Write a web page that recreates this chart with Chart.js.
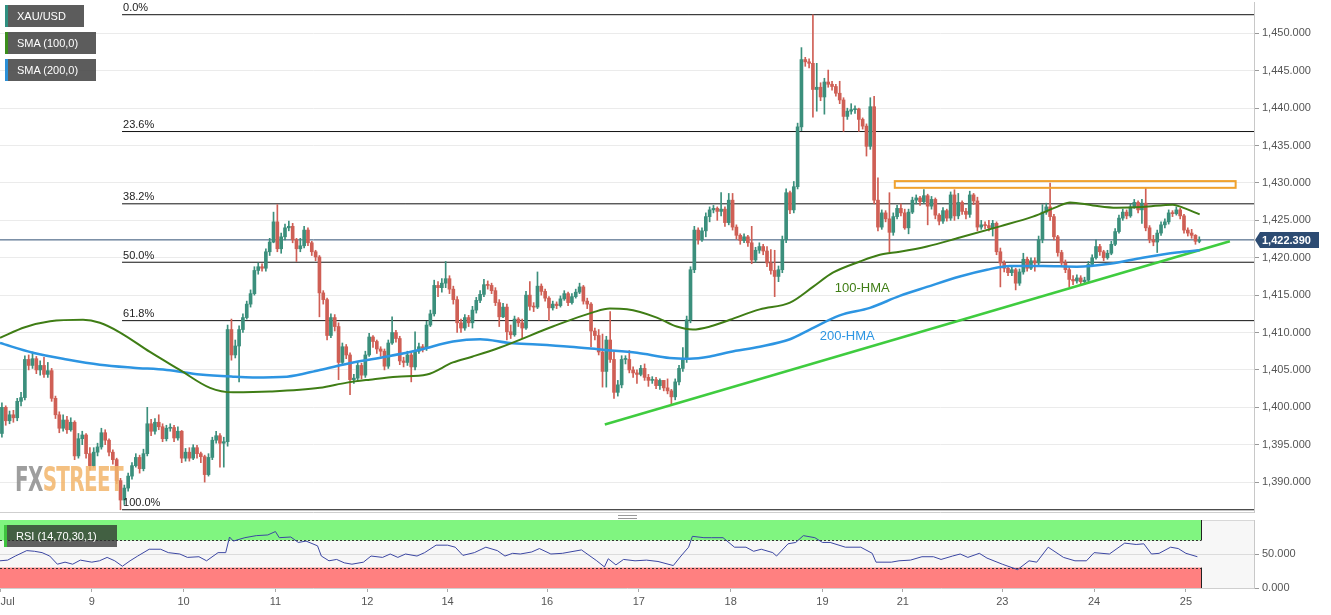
<!DOCTYPE html>
<html>
<head>
<meta charset="utf-8">
<script src="https://cdn.jsdelivr.net/npm/chart.js@4.4.1/dist/chart.umd.min.js"></script>
<style>
  body { margin:0; background:#fff; width:1331px; height:615px; overflow:hidden; position:relative; font-family:"Liberation Sans", Arial, sans-serif; }
  canvas { position:absolute; left:0; }
  #price { top:0; }
  #rsi { top:516px; }
  .tag { position:absolute; left:5px; height:22px; line-height:22px; background:rgba(70,70,70,0.88); color:#fff; font-size:11px; padding-left:9px; border-left:3px solid; box-sizing:border-box; white-space:nowrap; }
  #fxs { position:absolute; left:15px; top:459px; font-family:"DejaVu Sans Condensed","DejaVu Sans",sans-serif; font-weight:bold; font-size:34px; letter-spacing:-1px; transform-origin:left top; opacity:0.85; white-space:nowrap; }
  #grip { position:absolute; left:618px; top:515px; width:19px; height:2px; border-top:1px solid #999; border-bottom:1px solid #999; }
</style>
</head>
<body>
<canvas id="price" width="1331" height="516"></canvas>
<canvas id="rsi" width="1331" height="99"></canvas>
<div class="tag" style="top:5px;width:79px;border-color:#2f8f80">XAU/USD</div>
<div class="tag" style="top:32px;width:91px;border-color:#3b8d1c">SMA (100,0)</div>
<div class="tag" style="top:59px;width:91px;border-color:#2b8fd6">SMA (200,0)</div>
<div class="tag" style="top:525px;left:4px;width:113px;background:rgba(45,45,45,0.75);border-color:#3ec43e">RSI (14,70,30,1)</div>
<div id="fxs"><span style="color:#8d8d8d">FX</span><span style="color:#f2b66b">STREET</span></div>
<div id="grip"></div>
<script>
// hourly XAU/USD candles, Jul 8 00:00 -> Jul 25 ~03:00 (weekend gaps removed)
const firstOpen = 1396.5;
const closes = [
  1400.0,1398.2,1399.0,1398.6,1400.8,1401.3,1406.4,1405.6,1406.5,1405.0,
  1405.6,1404.4,1404.9,1401.2,1399.0,1397.2,1398.3,1397.0,1398.0,1393.5,
  1395.8,1396.3,1393.8,1392.2,1394.0,1394.7,1396.6,1395.6,1394.0,1393.0,
  1390.2,1387.6,1389.2,1390.8,1392.2,1393.3,1391.8,1393.8,1397.8,1396.8,
  1398.0,1397.4,1395.8,1397.2,1397.3,1395.9,1396.8,1393.2,1394.0,1393.2,
  1394.6,1393.8,1393.4,1391.0,1393.3,1395.6,1396.2,1395.2,1395.4,1410.4,
  1407.0,1408.2,1410.4,1412.0,1413.8,1415.2,1418.3,1418.8,1418.6,1420.8,
  1422.1,1424.8,1421.2,1422.8,1424.0,1424.2,1422.4,1421.2,1421.6,1423.7,
  1422.0,1420.8,1420.1,1415.3,1414.4,1409.6,1412.0,1410.8,1406.0,1408.1,
  1407.0,1403.7,1403.9,1405.6,1404.3,1407.0,1409.4,1408.8,1407.8,1407.5,
  1405.5,1408.6,1410.0,1409.2,1406.2,1406.0,1407.0,1405.4,1407.5,1408.1,
  1407.9,1411.0,1412.5,1416.3,1416.0,1416.6,1417.2,1415.8,1414.4,1411.3,
  1410.6,1412.0,1411.3,1413.0,1414.3,1415.1,1416.4,1416.3,1415.6,1414.0,
  1412.1,1413.4,1410.1,1409.7,1411.8,1411.3,1410.6,1415.0,1413.5,1413.4,
  1416.2,1415.5,1414.6,1413.3,1413.8,1413.6,1414.5,1415.2,1414.0,1414.8,
  1415.4,1416.1,1414.2,1413.8,1410.2,1409.6,1407.4,1404.8,1409.0,1406.4,
  1402.0,1403.0,1406.4,1406.4,1405.0,1404.6,1404.4,1405.2,1404.0,1403.6,
  1403.7,1402.9,1403.6,1402.6,1402.2,1401.4,1403.4,1405.2,1406.4,1411.7,
  1418.4,1423.7,1422.4,1423.6,1425.5,1426.4,1426.6,1426.2,1426.5,1424.7,
  1427.7,1424.1,1423.0,1422.3,1422.8,1422.0,1419.7,1421.0,1421.5,1420.9,
  1419.3,1418.3,1417.5,1418.4,1422.4,1428.7,1426.4,1429.5,1437.5,1446.5,
  1446.2,1446.0,1442.5,1442.8,1441.5,1443.5,1443.2,1442.9,1442.0,1441.1,
  1438.9,1439.6,1439.8,1439.9,1438.5,1437.6,1434.9,1440.2,1427.7,1424.1,
  1426.0,1425.2,1423.4,1425.5,1426.6,1426.0,1424.0,1426.1,1427.7,1428.0,
  1427.5,1428.3,1426.9,1427.8,1425.7,1424.9,1426.3,1425.3,1428.4,1425.6,
  1427.4,1426.2,1425.8,1428.4,1427.6,1424.1,1424.4,1424.3,1424.0,1424.6,
  1420.8,1419.3,1418.6,1418.0,1418.4,1416.6,1418.1,1419.8,1418.6,1419.6,
  1419.3,1422.4,1426.1,1426.8,1425.5,1422.8,1420.7,1419.3,1418.4,1417.1,
  1416.9,1417.3,1416.8,1417.0,1419.1,1420.0,1421.5,1420.8,1420.0,1420.6,
  1421.8,1423.5,1425.3,1426.1,1425.6,1426.8,1427.4,1426.4,1427.3,1424.0,
  1422.4,1422.1,1423.3,1424.4,1424.8,1426.0,1425.9,1426.4,1425.6,1423.7,
  1423.3,1423.0,1422.2,1422.39
];
const highs = [
  1400.6,1400.2,1399.5,1399.6,1401.2,1402.0,1406.9,1407.0,1407.4,1406.8,
  1406.2,1406.7,1406.0,1405.2,1401.5,1399.4,1399.0,1398.8,1398.6,1398.2,
  1396.5,1396.8,1396.5,1394.6,1394.6,1395.2,1397.2,1397.0,1395.8,1394.3,
  1393.2,1390.5,1389.6,1391.2,1392.6,1393.8,1393.6,1394.4,1400.0,1398.4,
  1398.5,1399.0,1397.8,1397.6,1397.8,1397.6,1397.4,1396.9,1394.5,1394.6,
  1395.0,1394.9,1394.0,1393.6,1393.8,1396.0,1396.8,1396.5,1396.0,1411.0,
  1411.8,1409.0,1410.9,1412.5,1414.2,1415.7,1418.8,1419.3,1419.2,1421.2,
  1422.6,1426.1,1427.1,1423.3,1424.5,1424.9,1424.6,1422.6,1422.6,1424.2,
  1424.0,1422.2,1421.0,1420.3,1415.6,1414.6,1412.5,1412.4,1411.3,1408.6,
  1408.4,1407.3,1404.4,1406.0,1405.9,1407.5,1409.9,1409.6,1409.0,1408.1,
  1407.8,1409.0,1412.1,1410.3,1409.5,1406.7,1407.5,1407.4,1410.1,1408.6,
  1408.4,1411.5,1413.0,1417.0,1416.8,1417.2,1419.5,1417.6,1416.2,1414.8,
  1411.8,1412.4,1412.3,1413.5,1414.7,1415.6,1417.1,1416.9,1416.6,1416.0,
  1414.4,1413.9,1413.8,1411.0,1412.2,1412.0,1411.8,1415.5,1416.8,1414.0,
  1418.1,1416.5,1415.8,1414.8,1414.2,1414.1,1414.9,1415.6,1415.4,1415.2,
  1415.8,1416.6,1416.3,1414.6,1414.0,1410.6,1410.4,1409.8,1409.5,1412.8,
  1407.4,1403.6,1406.9,1406.9,1407.6,1405.4,1405.0,1405.6,1405.8,1404.4,
  1404.1,1404.0,1403.8,1403.6,1403.8,1402.4,1403.8,1405.6,1408.0,1412.2,
  1418.8,1424.2,1424.0,1424.0,1426.0,1426.8,1427.0,1426.8,1428.7,1426.8,
  1428.6,1428.6,1424.4,1423.2,1423.2,1423.0,1424.2,1421.4,1422.0,1421.8,
  1421.5,1421.1,1421.0,1418.9,1422.9,1429.2,1428.9,1430.2,1438.0,1448.1,
  1446.8,1446.6,1452.5,1446.0,1443.4,1444.0,1445.1,1443.6,1443.2,1443.6,
  1441.4,1440.0,1440.6,1440.3,1440.0,1438.7,1437.9,1441.4,1441.6,1430.7,
  1426.4,1426.3,1428.7,1426.0,1427.0,1427.2,1426.5,1426.5,1428.1,1428.4,
  1428.2,1429.1,1428.5,1428.2,1428.0,1425.9,1426.7,1426.5,1428.8,1429.1,
  1428.6,1427.6,1426.6,1428.9,1428.6,1428.1,1425.0,1424.8,1425.0,1425.0,
  1424.8,1421.3,1419.6,1418.9,1418.8,1418.6,1418.5,1420.6,1420.1,1420.0,
  1420.0,1422.9,1427.1,1427.3,1430.0,1425.8,1423.0,1421.0,1419.7,1418.8,
  1417.6,1417.7,1417.6,1417.4,1419.5,1420.4,1422.4,1421.8,1421.0,1421.0,
  1422.2,1423.9,1425.7,1426.5,1426.4,1427.2,1427.8,1427.6,1427.8,1429.4,
  1424.3,1423.0,1423.7,1424.8,1425.2,1426.4,1426.3,1426.8,1426.6,1425.8,
  1424.0,1423.8,1423.1,1422.8
];
const lows = [
  1396.0,1397.6,1397.8,1398.0,1398.2,1400.2,1401.0,1405.0,1405.2,1404.5,
  1404.3,1404.0,1404.0,1400.8,1398.5,1396.6,1396.8,1396.5,1396.8,1393.0,
  1393.2,1395.0,1393.2,1391.6,1392.0,1393.5,1394.4,1395.0,1393.5,1392.4,
  1389.8,1386.3,1387.0,1388.8,1390.4,1392.0,1391.2,1391.5,1393.5,1396.2,
  1396.4,1397.0,1395.4,1395.5,1396.8,1395.4,1395.6,1392.6,1392.8,1392.8,
  1393.0,1393.2,1392.6,1390.0,1390.8,1393.0,1395.2,1392.0,1392.0,1394.8,
  1406.3,1406.6,1403.4,1410.0,1411.8,1413.4,1415.0,1417.8,1418.2,1418.2,
  1420.3,1422.0,1420.8,1420.6,1422.4,1423.6,1422.0,1419.5,1420.8,1421.3,
  1421.6,1420.3,1419.6,1412.1,1413.8,1409.0,1409.3,1410.2,1403.7,1405.6,
  1406.5,1401.7,1403.2,1403.5,1403.8,1404.0,1406.8,1408.0,1407.2,1406.8,
  1405.0,1405.2,1408.4,1408.7,1405.7,1405.4,1405.6,1403.4,1405.0,1407.2,
  1407.4,1407.6,1410.8,1412.2,1414.8,1415.4,1416.0,1415.2,1413.8,1410.0,
  1410.0,1410.3,1410.8,1410.6,1412.6,1414.0,1414.8,1415.8,1415.2,1413.6,
  1410.8,1412.0,1409.0,1409.2,1409.5,1410.8,1409.2,1410.4,1413.0,1412.8,
  1413.2,1415.0,1414.2,1411.6,1413.0,1413.2,1413.4,1414.3,1413.6,1413.8,
  1414.6,1415.2,1413.8,1413.2,1408.1,1409.0,1407.0,1402.7,1402.7,1406.0,
  1401.2,1401.5,1402.6,1405.8,1404.6,1404.0,1403.2,1404.2,1403.6,1402.8,
  1403.2,1402.5,1402.4,1402.2,1401.8,1400.3,1401.0,1403.0,1404.8,1406.0,
  1411.3,1418.0,1421.8,1422.2,1422.8,1424.8,1426.0,1425.0,1425.6,1424.2,
  1424.4,1423.7,1422.5,1421.8,1422.0,1421.5,1419.2,1419.4,1420.6,1420.4,
  1418.8,1417.8,1414.8,1416.8,1418.0,1422.0,1425.9,1426.0,1429.2,1437.0,
  1445.6,1445.4,1438.8,1439.6,1441.0,1439.2,1442.8,1442.4,1441.6,1440.6,
  1436.9,1438.5,1439.2,1439.3,1436.9,1437.2,1433.6,1434.5,1427.2,1423.6,
  1423.8,1424.8,1420.8,1423.0,1425.2,1425.6,1423.8,1423.2,1425.9,1427.2,
  1427.0,1427.3,1424.4,1426.5,1425.2,1424.4,1424.6,1424.9,1425.0,1425.0,
  1425.2,1425.8,1425.2,1425.4,1427.1,1423.6,1423.8,1423.9,1423.6,1422.9,
  1420.4,1416.1,1418.1,1417.6,1417.6,1415.7,1416.3,1417.8,1418.2,1418.4,
  1418.2,1419.0,1422.0,1425.8,1425.0,1422.4,1420.2,1418.9,1418.0,1416.1,
  1416.4,1416.6,1416.3,1416.4,1416.8,1418.8,1419.8,1420.3,1419.6,1419.8,
  1420.4,1421.6,1423.3,1425.0,1425.2,1425.4,1426.6,1426.0,1424.6,1423.6,
  1422.0,1421.6,1420.7,1423.0,1424.0,1424.5,1425.5,1425.7,1425.2,1423.3,
  1422.9,1422.6,1421.8,1422.0
];

// x axis: hour index, day labels at the first hour of each day
const dayTickIdx = [0, 24, 48, 72, 96, 117, 143, 167, 191, 215, 236, 262, 286, 310];
const dayTickLabels = ['Jul', '9', '10', '11', '12', '14', '16', '17', '18', '19', '21', '23', '24', '25'];
const xMax = 327.8;

const priceTicks = [1390, 1395, 1400, 1405, 1410, 1415, 1420, 1425, 1430, 1435, 1440, 1445, 1450];
const priceMin = 1386.0, priceMax = 1454.2;

// 100-HMA / 200-HMA
const hma100Idx = [0,6.5,13.1,21.7,26.1,31.4,39.2,47.0,54.9,60.9,70.6,83.6,90.7,96.7,103.8,111.6,118.4,123.6,130.7,144.5,155.0,159.4,163.9,171.7,176.9,181.1,185.6,190.8,198.6,206.5,212.5,217.7,224.8,230.0,235.2,242.3,250.9,261.4,270.0,276.3,279.7,285.7,291.9,298.7,306.6,309.2,313.6];
const hma100Val = [1409.3,1410.7,1411.5,1411.7,1411.3,1410.0,1407.4,1405.0,1402.6,1402.0,1402.1,1402.6,1403.3,1403.7,1404.1,1404.4,1406.0,1406.8,1408.0,1410.8,1412.7,1413.2,1413.1,1412.0,1410.8,1410.4,1410.8,1411.7,1413.1,1414.0,1416.1,1418.0,1419.5,1420.4,1420.8,1421.5,1422.7,1424.2,1425.5,1426.8,1427.4,1427.0,1426.7,1426.8,1427.1,1426.7,1425.8];
const hma200Idx = [0,8.6,17.5,26.1,34.8,43.6,52.3,60.9,66.1,75.0,83.6,92.3,101.2,109.8,118.4,125.5,133.3,140.4,149.0,157.6,166.5,175.1,180.3,185.6,190.8,198.6,206.5,211.7,219.5,227.4,235.2,242.3,250.9,258.0,264.0,272.6,281.5,290.1,298.7,307.6,313.6];
const hma200Val = [1408.6,1407.3,1406.4,1405.7,1405.3,1405.0,1404.4,1404.1,1404.0,1404.1,1405.0,1406.0,1406.8,1407.7,1408.8,1409.1,1408.6,1408.4,1408.1,1407.7,1407.3,1406.6,1406.5,1406.8,1407.4,1408.1,1409.1,1410.4,1412.3,1413.3,1414.9,1416.1,1417.5,1418.4,1418.9,1418.9,1418.8,1419.2,1420.0,1420.7,1421.0];
const hmaLabels = ['100-HMA', '200-HMA'];
const hmaLabelIdx = [218.2, 214.3];
const hmaLabelVal = [1415.9, 1409.45];

// drawings
const trendIdx = [158.1, 321.5];
const trendVal = [1397.7, 1422.2];
const zoneIdx = [233.9, 323.0];
const zoneVal = [1429.35, 1430.25];
const fibLevels = [0, 23.6, 38.2, 50, 61.8, 100];
const fibHigh = 1452.5, fibLow = 1386.3, fibStartIdx = 31.9;
const lastPrice = 1422.39;

// RSI (14)
const rsiIdx = [0,2,4,7,9,11,13,15,17,19,21,24,26,28,30,32,34,36,39,42,44,47,49,52,54,57,59,60,61,64,67,70,72,73,76,78,80,83,84,86,88,90,92,95,97,100,102,104,106,109,111,114,117,119,121,124,127,130,132,134,136,139,141,144,147,152,154,156,158,159,161,163,166,169,172,176,178,180,181,184,186,189,192,195,197,199,202,203,206,208,210,213,215,217,221,225,228,229,233,235,238,241,244,246,249,251,253,256,258,262,266,269,271,274,278,281,284,286,290,294,297,299,301,303,306,308,310,313];
const rsiVal = [40,41,47,55,54,52,47,35,38,35,41,38,40,45,40,32,40,47,57,57,52,50,45,46,40,52,52,75,69,74,77,78,83,74,75,67,69,62,47,40,42,37,35,38,47,45,50,45,50,47,52,63,63,60,48,52,60,55,47,51,50,53,58,50,51,56,48,40,31,43,34,42,40,41,39,33,47,60,76,74,74,74,60,60,54,57,52,47,65,67,77,74,67,67,60,60,51,38,38,40,41,46,46,42,47,50,45,51,44,35,27,40,38,60,45,40,40,52,50,66,64,65,50,51,60,58,51,46];
const rsiBands = [30, 70];
const rsiTicks = [0, 50];

if (highs.length !== closes.length || lows.length !== closes.length) throw new Error('len ' + closes.length + ' ' + highs.length + ' ' + lows.length);
if (rsiIdx.length !== rsiVal.length) throw new Error('rsi len ' + rsiIdx.length + ' ' + rsiVal.length);

const n = closes.length;
const opens = closes.map((c, i) => i === 0 ? firstOpen : closes[i - 1]);
const upColor = '#3b8f7c', downColor = '#cf5f55';
const candleColor = closes.map((c, i) => c >= opens[i] ? upColor : downColor);
const bodyData = closes.map((c, i) => ({ x: i + 0.5, y: [opens[i], c] }));
const wickData = closes.map((c, i) => ({ x: i + 0.5, y: [Math.min(lows[i], opens[i], c), Math.max(highs[i], opens[i], c)] }));
const pts = (xs, ys) => xs.map((x, k) => ({ x: x, y: ys[k] }));

const FONT = '"Liberation Sans", Arial, sans-serif';
Chart.defaults.font.family = FONT;
Chart.defaults.font.size = 11;
Chart.defaults.color = '#555';

const fmt3 = v => Number(v).toLocaleString('en-US', { minimumFractionDigits: 3, maximumFractionDigits: 3 });

const fibSets = fibLevels.map(l => {
  const p = fibHigh - (fibHigh - fibLow) * l / 100;
  return { type: 'line', data: [{ x: fibStartIdx, y: p }, { x: xMax, y: p }], borderColor: '#111', borderWidth: 1, pointRadius: 0, order: 5 };
});

const priceDecor = {
  id: 'priceDecor',
  afterDatasetsDraw(chart) {
    const { ctx, chartArea: a, scales: { x, y } } = chart;
    ctx.save();
    // resistance zone
    const zx0 = x.getPixelForValue(zoneIdx[0]), zx1 = x.getPixelForValue(zoneIdx[1]);
    const zy0 = y.getPixelForValue(zoneVal[1]), zy1 = y.getPixelForValue(zoneVal[0]);
    ctx.strokeStyle = '#f0a22e';
    ctx.lineWidth = 2;
    ctx.strokeRect(zx0, zy0, zx1 - zx0, zy1 - zy0);
    // fib labels
    ctx.font = '11px ' + FONT;
    ctx.fillStyle = '#222';
    ctx.textAlign = 'left';
    ctx.textBaseline = 'bottom';
    fibLevels.forEach(l => {
      const p = fibHigh - (fibHigh - fibLow) * l / 100;
      ctx.fillText(l.toFixed(1) + '%', x.getPixelForValue(fibStartIdx) + 1, y.getPixelForValue(p) - 1);
    });
    // HMA labels
    ctx.font = '13px ' + FONT;
    ctx.textBaseline = 'middle';
    const cols = ['#3f7d15', '#2d95e2'];
    hmaLabels.forEach((t, k) => {
      ctx.fillStyle = cols[k];
      ctx.fillText(t, x.getPixelForValue(hmaLabelIdx[k]), y.getPixelForValue(hmaLabelVal[k]));
    });
    // bottom border of the price pane
    ctx.strokeStyle = '#cfcfcf';
    ctx.lineWidth = 1;
    ctx.beginPath();
    ctx.moveTo(a.left, a.bottom + 0.5);
    ctx.lineTo(a.right, a.bottom + 0.5);
    ctx.stroke();
    ctx.restore();
  },
  afterDraw(chart) {
    const { ctx, chartArea: a, scales: { y } } = chart;
    const py = Math.round(y.getPixelForValue(lastPrice));
    const r = a.right;
    ctx.save();
    ctx.fillStyle = '#2c4b72';
    ctx.beginPath();
    ctx.moveTo(r + 1, py);
    ctx.lineTo(r + 6, py - 8);
    ctx.lineTo(r + 65, py - 8);
    ctx.lineTo(r + 65, py + 8);
    ctx.lineTo(r + 6, py + 8);
    ctx.closePath();
    ctx.fill();
    ctx.fillStyle = '#fff';
    ctx.font = 'bold 11px ' + FONT;
    ctx.textAlign = 'left';
    ctx.textBaseline = 'middle';
    ctx.fillText(fmt3(lastPrice), r + 8, py + 1);
    ctx.restore();
  }
};

new Chart(document.getElementById('price').getContext('2d'), {
  type: 'bar',
  data: {
    datasets: [
      { type: 'line', data: pts(hma100Idx, hma100Val), borderColor: '#3f7d15', borderWidth: 2, pointRadius: 0, tension: 0.4, cubicInterpolationMode: 'monotone', order: 0 },
      { type: 'line', data: pts(hma200Idx, hma200Val), borderColor: '#2d95e2', borderWidth: 2.5, pointRadius: 0, tension: 0.4, cubicInterpolationMode: 'monotone', order: 0 },
      { type: 'line', data: pts(trendIdx, trendVal), borderColor: '#3fcc3f', borderWidth: 2.5, pointRadius: 0, order: 0 },
      { type: 'bar', data: bodyData, backgroundColor: candleColor, barThickness: 3, minBarLength: 1, grouped: false, order: 1 },
      { type: 'bar', data: wickData, backgroundColor: candleColor, barThickness: 1, grouped: false, order: 2 },
      ...fibSets,
      { type: 'line', data: [{ x: 0, y: lastPrice }, { x: xMax, y: lastPrice }], borderColor: '#2e4d73', borderWidth: 1, pointRadius: 0, order: 5 }
    ]
  },
  options: {
    responsive: false,
    animation: false,
    events: [],
    layout: { padding: { top: 2, bottom: 4, left: 0, right: 0 } },
    plugins: { legend: { display: false }, tooltip: { enabled: false } },
    scales: {
      x: { type: 'linear', min: 0, max: xMax, display: false, offset: false, grid: { display: false, offset: false } },
      y: {
        type: 'linear',
        position: 'right',
        min: priceMin,
        max: priceMax,
        afterBuildTicks: s => { s.ticks = priceTicks.map(v => ({ value: v })); },
        afterFit: s => { s.width = 77; s.paddingTop = 0; s.paddingBottom = 0; },
        ticks: { callback: v => fmt3(v), padding: 3, color: '#555' },
        grid: { color: '#ebebeb', tickColor: '#999', tickLength: 5 },
        border: { display: true, color: '#c8c8c8' }
      }
    }
  },
  plugins: [priceDecor]
});

const rsiDecor = {
  id: 'rsiDecor',
  beforeDraw(chart) {
    const { ctx, chartArea: a } = chart;
    ctx.save();
    ctx.fillStyle = '#f7f7f7';
    ctx.fillRect(a.left, a.top, a.right - a.left, a.bottom - a.top);
    ctx.strokeStyle = '#d8d8d8';
    ctx.beginPath();
    ctx.moveTo(a.left, a.top + 0.5);
    ctx.lineTo(a.right, a.top + 0.5);
    ctx.stroke();
    ctx.restore();
  },
  beforeDatasetsDraw(chart) {
    const { ctx, chartArea: a, scales: { x, y } } = chart;
    const xe = x.getPixelForValue(n);
    ctx.save();
    ctx.fillStyle = '#80f580';
    ctx.fillRect(a.left, y.getPixelForValue(100), xe - a.left, y.getPixelForValue(rsiBands[1]) - y.getPixelForValue(100));
    ctx.fillStyle = '#ff8080';
    ctx.fillRect(a.left, y.getPixelForValue(rsiBands[0]), xe - a.left, y.getPixelForValue(0) - y.getPixelForValue(rsiBands[0]));
    ctx.strokeStyle = '#333';
    ctx.lineWidth = 1;
    ctx.setLineDash([2, 2]);
    rsiBands.forEach(b => {
      const py = Math.round(y.getPixelForValue(b)) + 0.5;
      ctx.beginPath();
      ctx.moveTo(a.left, py);
      ctx.lineTo(xe, py);
      ctx.stroke();
    });
    ctx.setLineDash([]);
    ctx.strokeStyle = '#222';
    ctx.beginPath();
    ctx.moveTo(Math.round(xe) + 0.5, y.getPixelForValue(100));
    ctx.lineTo(Math.round(xe) + 0.5, y.getPixelForValue(rsiBands[1]));
    ctx.moveTo(Math.round(xe) + 0.5, y.getPixelForValue(rsiBands[0]));
    ctx.lineTo(Math.round(xe) + 0.5, y.getPixelForValue(0));
    ctx.stroke();
    ctx.restore();
  }
};

new Chart(document.getElementById('rsi').getContext('2d'), {
  type: 'line',
  data: {
    datasets: [
      { data: pts(rsiIdx, rsiVal), borderColor: '#3c47a3', borderWidth: 1, pointRadius: 0, tension: 0 }
    ]
  },
  options: {
    responsive: false,
    animation: false,
    events: [],
    layout: { padding: { top: 4, bottom: 0, left: 0, right: 0 } },
    plugins: { legend: { display: false }, tooltip: { enabled: false } },
    scales: {
      x: {
        type: 'linear',
        min: 0,
        max: xMax,
        afterBuildTicks: s => { s.ticks = dayTickIdx.map(v => ({ value: v })); },
        afterFit: s => { s.height = 27; s.paddingLeft = 0; s.paddingRight = 0; },
        ticks: {
          autoSkip: false, maxRotation: 0, minRotation: 0, padding: 3, color: '#555',
          callback: (v, i) => i === 0 ? '     ' + dayTickLabels[0] : dayTickLabels[i]
        },
        grid: { drawOnChartArea: false, tickLength: 4, tickColor: '#aaa' },
        border: { display: true, color: '#cfcfcf' }
      },
      y: {
        type: 'linear',
        position: 'right',
        min: 0,
        max: 100,
        afterBuildTicks: s => { s.ticks = rsiTicks.map(v => ({ value: v })); },
        afterFit: s => { s.width = 77; s.paddingTop = 0; s.paddingBottom = 0; },
        ticks: { callback: v => fmt3(v), padding: 3, color: '#555' },
        grid: { color: ctx => (ctx.tick && ctx.tick.value === 50) ? '#dcdcdc' : 'rgba(0,0,0,0)', tickColor: '#999', tickLength: 5 },
        border: { display: true, color: '#c8c8c8' }
      }
    }
  },
  plugins: [rsiDecor]
});

// squeeze the FXSTREET mark to its width in the picture
const fxs = document.getElementById('fxs');
fxs.style.transform = 'scaleX(' + (108 / fxs.offsetWidth).toFixed(3) + ')';
</script>
</body>
</html>
